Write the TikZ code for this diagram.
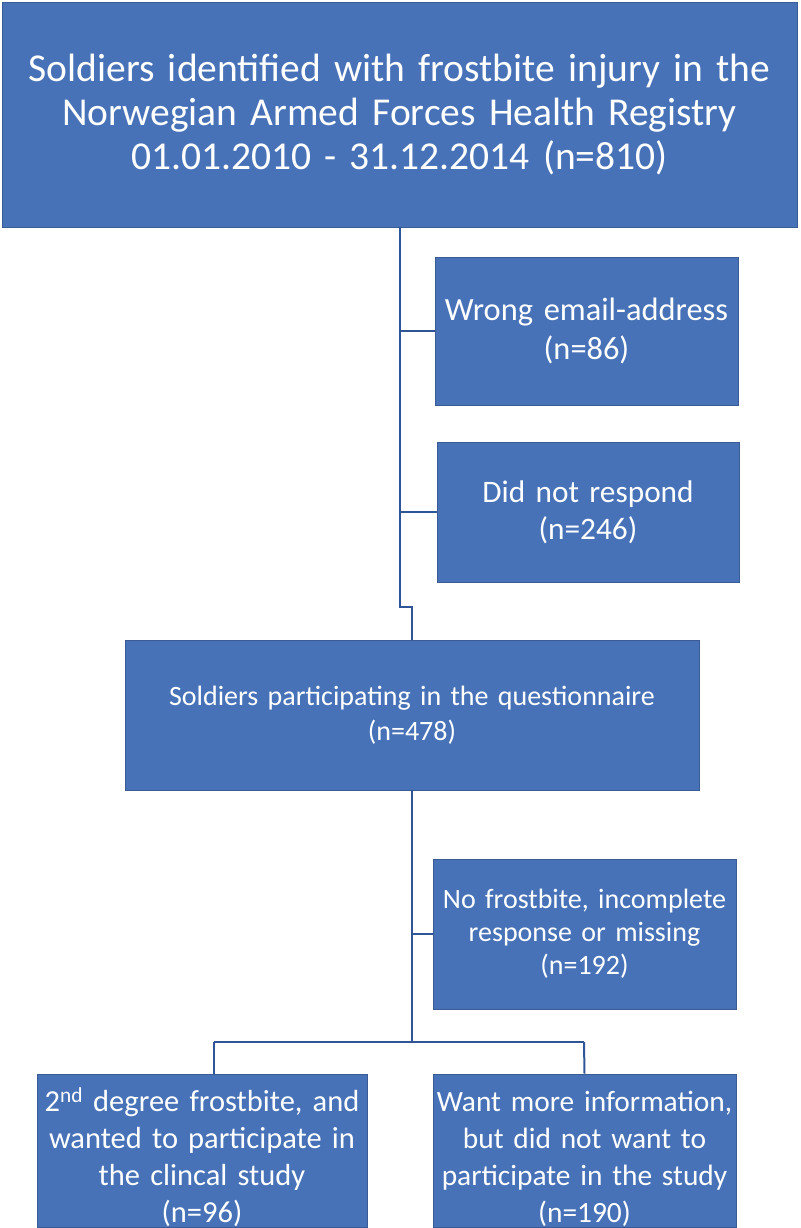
\documentclass[tikz,border=0pt]{standalone}
\usepackage{fontspec}
\setmainfont{Carlito}
\definecolor{boxblue}{RGB}{72,114,184}
\definecolor{lineblue}{RGB}{47,85,151}
\begin{document}
\begin{tikzpicture}[x=1pt,y=-1pt,
  box/.style={draw=boxblue!80!black, line width=0.6pt, fill=boxblue, text=white, inner sep=0pt, align=center},
  conn/.style={draw=lineblue, line width=2pt}]
\useasboundingbox (0,0) rectangle (800,1228);
\node[box, minimum width=795pt, minimum height=225pt, text width=790pt,
  font=\fontsize{39.5}{44}\selectfont] (top) at (399.5,114.5)
  {Soldiers identified with frostbite injury in the\\Norwegian Armed Forces Health Registry\\01.01.2010 - 31.12.2014 (n=810)};
\node[box, minimum width=303pt, minimum height=148pt, text width=300pt,
  font=\fontsize{32.4}{39}\selectfont] (wrong) at (586.5,331)
  {Wrong email-address\\(n=86)};
\node[box, minimum width=302pt, minimum height=140pt, text width=298pt,
  font=\fontsize{31.3}{37}\selectfont] (dnr) at (588,512)
  {Did not respond\\(n=246)};
\node[box, minimum width=574pt, minimum height=150pt, text width=570pt,
  font=\fontsize{28}{35}\selectfont] (part) at (412,715)
  {Soldiers participating in the questionnaire\\(n=478)};
\node[box, minimum width=303pt, minimum height=150pt, text width=300pt,
  font=\fontsize{28}{33}\selectfont] (nofrost) at (584.5,934)
  {No frostbite, incomplete\\response or missing\\(n=192)};
\node[box, minimum width=330pt, minimum height=149pt, text width=328pt,
  font=\fontsize{30.5}{37}\selectfont] (lb) at (202,1150.5)
  {\rule{0pt}{38pt}2\textsuperscript{nd} degree frostbite, and\\wanted to participate in\\the clincal study\\(n=96)};
\node[box, minimum width=303pt, minimum height=149pt, text width=302pt,
  font=\fontsize{29.4}{37}\selectfont] (rb) at (584.5,1150.5)
  {\rule{0pt}{38pt}Want more information,\\but did not want to\\participate in the study\\(n=190)};
\coordinate (j1) at (400,607);
\coordinate (hl) at (214,1042);
\coordinate (hr) at (584,1042);
\draw[conn] (top.south) -- (top.south |- j1) -- (part.north |- j1) -- (part.north);
\draw[conn] (top.south |- wrong.west) -- (wrong.west);
\draw[conn] (top.south |- dnr.west) -- (dnr.west);
\draw[conn] (part.south) -- (part.south |- hl);
\draw[conn] (part.south |- nofrost.west) -- (nofrost.west);
\draw[conn] (hl) -- (hr);
\draw[conn] (hl) -- (hl |- lb.north);
\draw[conn] (hr) -- (rb.north);
\end{tikzpicture}
\end{document}
